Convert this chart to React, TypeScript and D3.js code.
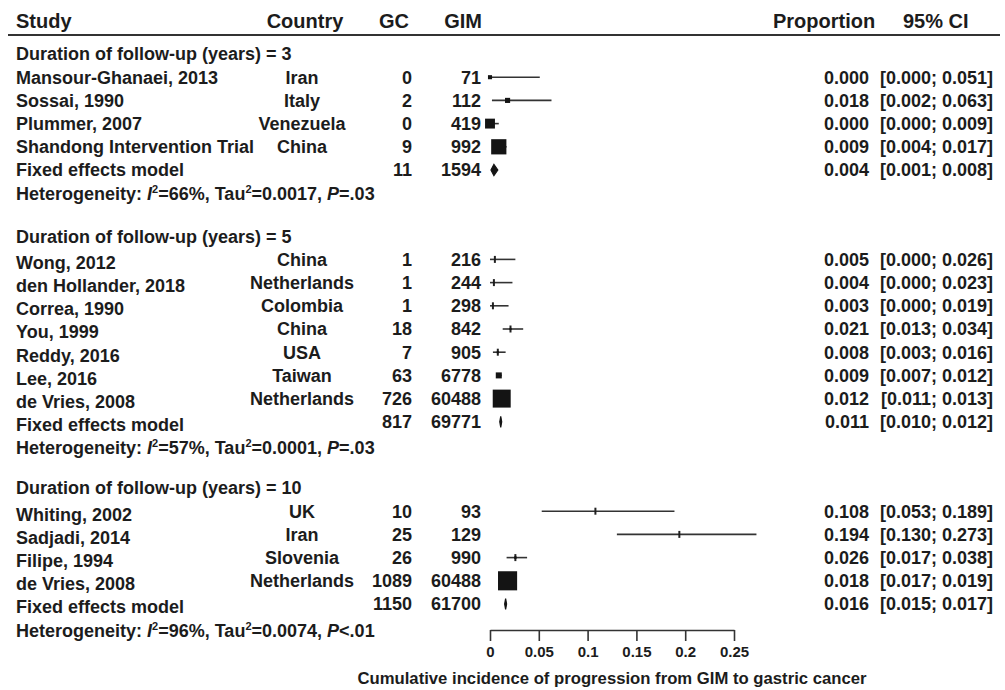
import React, { useEffect, useRef } from "react";
import * as d3 from "d3";

// study level data
const studyNames = [
  "Mansour-Ghanaei, 2013", "Sossai, 1990", "Plummer, 2007", "Shandong Intervention Trial",
  "Wong, 2012", "den Hollander, 2018", "Correa, 1990", "You, 1999", "Reddy, 2016", "Lee, 2016", "de Vries, 2008",
  "Whiting, 2002", "Sadjadi, 2014", "Filipe, 1994", "de Vries, 2008",
];
const countries = [
  "Iran", "Italy", "Venezuela", "China",
  "China", "Netherlands", "Colombia", "China", "USA", "Taiwan", "Netherlands",
  "UK", "Iran", "Slovenia", "Netherlands",
];
const studyGroup = [0, 0, 0, 0, 1, 1, 1, 1, 1, 1, 1, 2, 2, 2, 2];
const gcCounts = [0, 2, 0, 9, 1, 1, 1, 18, 7, 63, 726, 10, 25, 26, 1089];
const gimCounts = [71, 112, 419, 992, 216, 244, 298, 842, 905, 6778, 60488, 93, 129, 990, 60488];
const proportions = [0.0, 0.018, 0.0, 0.009, 0.005, 0.004, 0.003, 0.021, 0.008, 0.009, 0.012, 0.108, 0.194, 0.026, 0.018];
const ciLower = [0.0, 0.002, 0.0, 0.004, 0.0, 0.0, 0.0, 0.013, 0.003, 0.007, 0.011, 0.053, 0.13, 0.017, 0.017];
const ciUpper = [0.051, 0.063, 0.009, 0.017, 0.026, 0.023, 0.019, 0.034, 0.016, 0.012, 0.013, 0.189, 0.273, 0.038, 0.019];

// subgroup (fixed effects) data
const groupTitles = [
  "Duration of follow-up (years) = 3",
  "Duration of follow-up (years) = 5",
  "Duration of follow-up (years) = 10",
];
const groupGc = [11, 817, 1150];
const groupGim = [1594, 69771, 61700];
const pooledProp = [0.004, 0.011, 0.016];
const pooledLower = [0.001, 0.01, 0.015];
const pooledUpper = [0.008, 0.012, 0.017];
const hetI2 = ["66%", "57%", "96%"];
const hetTau2 = ["0.0017", "0.0001", "0.0074"];
const hetP = ["=.03", "=.03", "<.01"];

const axisTicks = [0, 0.05, 0.1, 0.15, 0.2, 0.25];

const W = 1005;
const H = 690;
const FONT = "'Liberation Sans', Arial, Helvetica, sans-serif";
const INK = "#1c1c1c";

export default function App() {
  const axisRef = useRef<SVGGElement>(null);

  const x = d3.scaleLinear().domain([0, 0.25]).range([490, 734]);
  const boxSize = d3.scaleSqrt().domain([0, 1]).range([0, 19.3]);
  const fmt = d3.format(".3f");

  // layout rows
  const lineH = 23.2;
  const groupGap = 43;
  type Row = { kind: string; y: number; g: number; i?: number };
  const rows: Row[] = [];
  let y = 54;
  groupTitles.forEach((t, g) => {
    rows.push({ kind: "title", y, g });
    studyGroup.forEach((sg, i) => {
      if (sg === g) {
        y += lineH;
        rows.push({ kind: "study", y, g, i });
      }
    });
    y += lineH;
    rows.push({ kind: "pooled", y, g });
    y += lineH;
    rows.push({ kind: "het", y, g });
    y += groupGap;
  });

  useEffect(() => {
    const g = d3.select(axisRef.current);
    g.selectAll("*").remove();
    g.attr("transform", "translate(0,630)")
      .call(
        d3.axisBottom(x)
          .tickValues(axisTicks)
          .tickFormat((d) => String(d))
          .tickSize(11)
          .tickSizeOuter(0)
          .tickPadding(5)
      );
    g.select(".domain").attr("stroke", "#333").attr("stroke-width", 1.6);
    g.selectAll(".tick line").attr("stroke", "#333").attr("stroke-width", 1.6);
    g.selectAll(".tick text")
      .attr("fill", INK)
      .style("font-family", FONT)
      .style("font-weight", "bold")
      .style("font-size", "15px");
  }, []);

  // name labels in the 2nd and 3rd group sit a bit lower in the original
  const nameShift = [0, 3, 3];

  return (
    <svg
      width={W}
      height={H}
      style={{ position: "absolute", left: 0, top: 0, background: "#fff" }}
      fontFamily={FONT}
      fontWeight="bold"
      fill={INK}
    >
      {/* header */}
      <g fontSize={20}>
        <text x={16} y={21} dy="0.35em">Study</text>
        <text x={305} y={21} dy="0.35em" textAnchor="middle">Country</text>
        <text x={409} y={21} dy="0.35em" textAnchor="end">GC</text>
        <text x={482} y={21} dy="0.35em" textAnchor="end">GIM</text>
        <text x={773} y={21} dy="0.35em">Proportion</text>
        <text x={903} y={21} dy="0.35em">95% CI</text>
      </g>
      <line x1={8} x2={1000} y1={35} y2={35} stroke="#333" strokeWidth={2} />

      <g fontSize={18}>
        {rows.map((r, k) => {
          if (r.kind === "title") {
            return (
              <text key={k} x={16} y={r.y} dy="0.35em">{groupTitles[r.g]}</text>
            );
          }
          if (r.kind === "study") {
            const i = r.i as number;
            const s = boxSize(gimCounts[i] / groupGim[r.g]);
            const cx = x(proportions[i]);
            return (
              <g key={k}>
                <text x={16} y={r.y + nameShift[r.g]} dy="0.35em">{studyNames[i]}</text>
                <text x={302} y={r.y} dy="0.35em" textAnchor="middle">{countries[i]}</text>
                <text x={412} y={r.y} dy="0.35em" textAnchor="end">{gcCounts[i]}</text>
                <text x={481} y={r.y} dy="0.35em" textAnchor="end">{gimCounts[i]}</text>
                <text x={869} y={r.y} dy="0.35em" textAnchor="end">{fmt(proportions[i])}</text>
                <text x={993} y={r.y} dy="0.35em" textAnchor="end">
                  {`[${fmt(ciLower[i])}; ${fmt(ciUpper[i])}]`}
                </text>
                <line x1={x(ciLower[i])} x2={x(ciUpper[i])} y1={r.y} y2={r.y} stroke="#333" strokeWidth={1.6} />
                {s < 3 && (
                  <line x1={cx} x2={cx} y1={r.y - 3.5} y2={r.y + 3.5} stroke="#222" strokeWidth={2} />
                )}
                <rect x={cx - s / 2} y={r.y - s / 2} width={s} height={s} fill="#141414" />
              </g>
            );
          }
          if (r.kind === "pooled") {
            const g = r.g;
            const x0 = x(pooledLower[g]);
            const x1 = x(pooledUpper[g]);
            const xm = x(pooledProp[g]);
            const hh = 5.5;
            return (
              <g key={k}>
                <text x={16} y={r.y + nameShift[g]} dy="0.35em">Fixed effects model</text>
                <text x={412} y={r.y} dy="0.35em" textAnchor="end">{groupGc[g]}</text>
                <text x={481} y={r.y} dy="0.35em" textAnchor="end">{groupGim[g]}</text>
                <text x={869} y={r.y} dy="0.35em" textAnchor="end">{fmt(pooledProp[g])}</text>
                <text x={993} y={r.y} dy="0.35em" textAnchor="end">
                  {`[${fmt(pooledLower[g])}; ${fmt(pooledUpper[g])}]`}
                </text>
                <path
                  d={`M${x0},${r.y}L${xm},${r.y - hh}L${x1},${r.y}L${xm},${r.y + hh}Z`}
                  fill="#141414"
                  stroke="#141414"
                  strokeWidth={1.2}
                />
              </g>
            );
          }
          return (
            <text key={k} x={16} y={r.y + nameShift[r.g]} dy="0.35em">
              {"Heterogeneity: "}
              <tspan fontStyle="italic">I</tspan>
              <tspan fontSize={11} dy={-7}>2</tspan>
              <tspan dy={7}>{`=${hetI2[r.g]}, Tau`}</tspan>
              <tspan fontSize={11} dy={-7}>2</tspan>
              <tspan dy={7}>{`=${hetTau2[r.g]}, `}</tspan>
              <tspan fontStyle="italic">P</tspan>
              <tspan>{hetP[r.g]}</tspan>
            </text>
          );
        })}
      </g>

      <g ref={axisRef} />
      <text x={612} y={678} dy="0.35em" textAnchor="middle" fontSize={16.7}>
        Cumulative incidence of progression from GIM to gastric cancer
      </text>
    </svg>
  );
}
